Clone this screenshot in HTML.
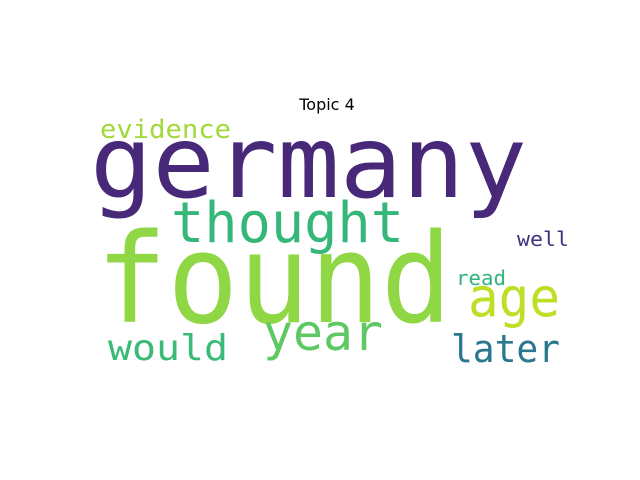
<!DOCTYPE html>
<html><head><meta charset="utf-8"><style>
html,body{margin:0;padding:0;background:#fff;}
svg{display:block;}
text.w{font-family:"DejaVu Sans Mono","Liberation Mono",monospace;}
</style></head><body>
<svg width="640" height="480" viewBox="0 0 640 480" xmlns="http://www.w3.org/2000/svg">
<rect width="640" height="480" fill="#fff"/>
<text x="327" y="110" text-anchor="middle" font-family="DejaVu Sans, Liberation Sans, sans-serif" font-size="16" fill="#000">Topic 4</text>
<g id="cloud"></g>
</svg>
<script>
const words = ["germany","found","thought","evidence","age","later","read","well","year","would"];
const weights = [100,124,56,26,54,38,20,20,50,36];
const colors = ["#482878","#8fd744","#35b779","#a0da39","#bddf26","#2a788e","#2fb47c","#46337e","#5ec962","#3aba76"];
// layout (positions of placed words)
const layoutX = [90,96,171,100,468,451,456,517,263,108];
const layoutY = [197,322,242,138,316,362,285,246,350,360];
const layoutW = [437,356,233,131,92,109,50,52,120,120];
const g = document.getElementById('cloud');
const NS = "http://www.w3.org/2000/svg";
words.forEach((w,i)=>{
  const t = document.createElementNS(NS,'text');
  
  
  t.setAttribute('class','w');
  t.setAttribute('x', layoutX[i]);
  t.setAttribute('y', layoutY[i]);
  t.setAttribute('font-size', weights[i]);
  t.setAttribute('fill', colors[i]);
  t.setAttribute('textLength', layoutW[i]);
  t.setAttribute('lengthAdjust','spacingAndGlyphs');
  t.textContent = w;
  g.appendChild(t);
});
</script>
</body></html>
